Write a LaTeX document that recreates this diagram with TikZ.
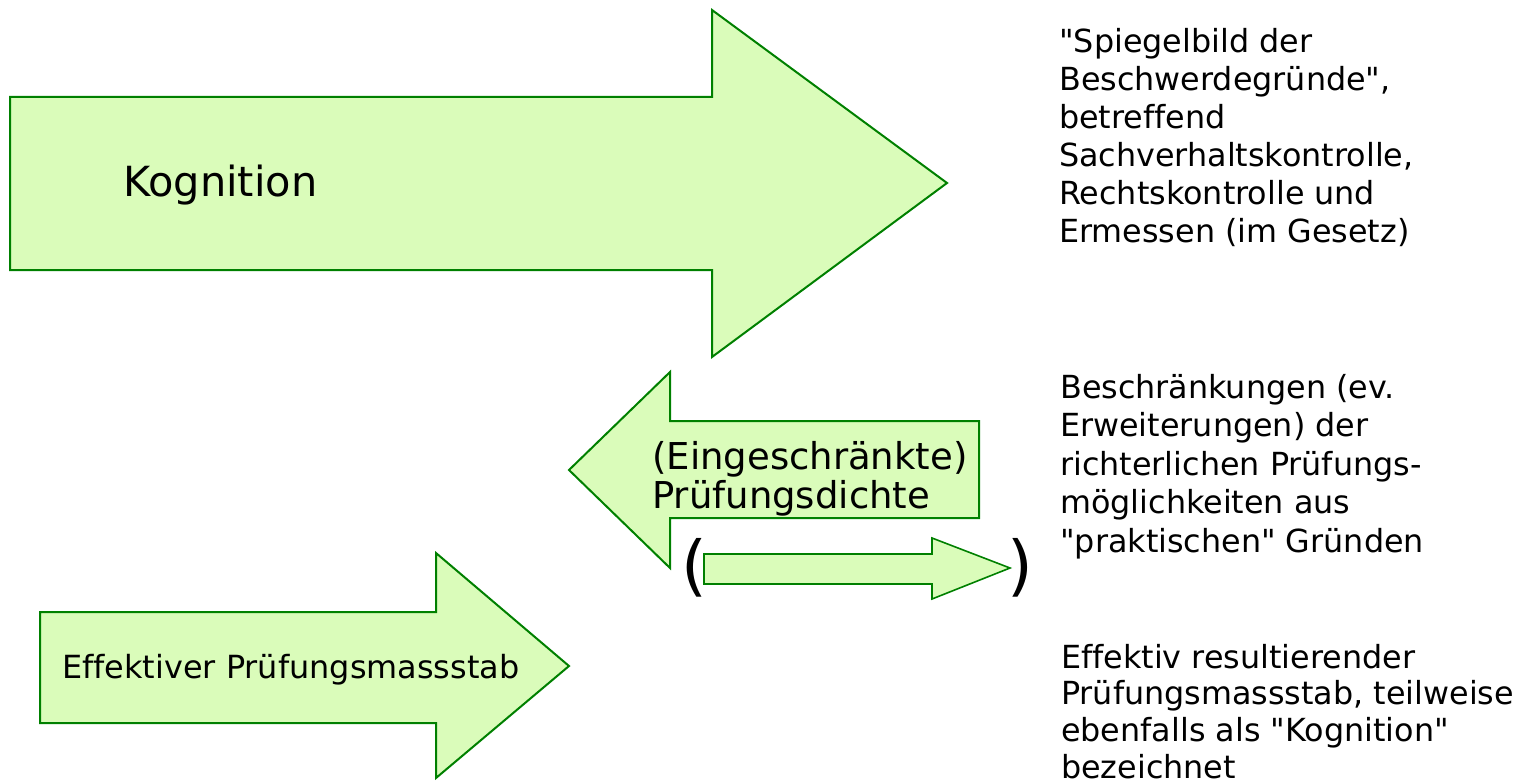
\documentclass[tikz,border=0pt]{standalone}
\usepackage{fontspec}
\setmainfont{DejaVu Sans}[Ligatures={TeXOff,NoCommon}]
\definecolor{arrowgreen}{HTML}{008000}
\definecolor{arrowfill}{HTML}{DAFCBA}

\begin{document}
\begin{tikzpicture}[y=1pt, x=1pt, yscale=-1,
  arrowshape/.style={draw=arrowgreen,fill=arrowfill,line join=miter,line width=2pt},
  txt/.style={inner sep=0pt,anchor=north west,align=left}]
\useasboundingbox (0,0) rectangle (1530,781);
\begin{scope}[]% layer1
  % arrow kognition
  \path[arrowshape] (10,97) -- (712,97) -- (712,10) -- (947,183) --
    (712,357) -- (712,270) -- (10,270) -- cycle;
  % arrow dichte
  \path[arrowshape] (979,421) -- (670,421) -- (670,372) -- (569,470) --
    (670,568) -- (670,518) -- (979,518) -- cycle;
  % arrow klein
  \path[arrowshape,line width=1.6pt] (704,554) -- (932,554) -- (932,538) -- (1010,568) --
    (932,599) -- (932,584) -- (704,584) -- cycle;
  % arrow massstab
  \path[arrowshape] (40,612) -- (436,612) -- (436,553) -- (569,666) --
    (436,778) -- (436,723) -- (40,723) -- cycle;

  \node[anchor=base west,inner sep=0pt,font=\fontsize{41.5}{50}\selectfont] (K) at (123,196) {Kognition};
  \node[txt,font=\fontsize{37}{39.5}\selectfont] (P) at (652,441) {(Eingeschränkte)\\Prüfungsdichte};
  \node[anchor=base west,inner sep=0pt,font=\fontsize{31.9}{38}\selectfont] (M) at (62,678) {Effektiver Prüfungsmassstab};

  \node[anchor=base west,inner sep=0pt,font=\fontsize{66}{70}\selectfont] (lp) at (681.5,588) {(};
  \node[anchor=base west,inner sep=0pt,font=\fontsize{66}{70}\selectfont] (rp) at (1007.5,588) {)};

  \node[txt,font=\fontsize{31.8}{38}\selectfont] (a) at (1059,27.8) {"Spiegelbild der\\Beschwerdegründe",\\betreffend\\Sachverhaltskontrolle,\\Rechtskontrolle und\\Ermessen (im Gesetz)};
  \node[txt,font=\fontsize{31.8}{38.5}\selectfont] (b) at (1060,373.8) {Beschränkungen (ev.\\Erweiterungen) der\\richterlichen Prüfungs-\\möglichkeiten aus\\"praktischen" Gründen};
  \node[txt,font=\fontsize{31.8}{36.7}\selectfont] (c) at (1061,643.8) {Effektiv resultierender\\Prüfungsmassstab, teilweise\\ebenfalls als "Kognition"\\bezeichnet};
\end{scope}
\end{tikzpicture}
\end{document}
